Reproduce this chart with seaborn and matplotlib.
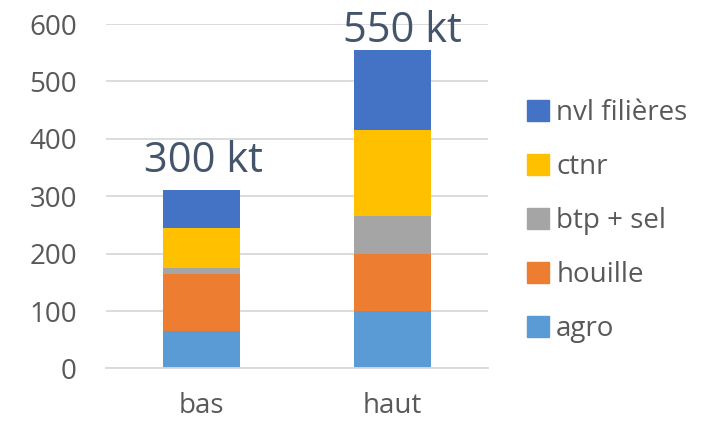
import pandas as pd
import matplotlib
matplotlib.use("Agg")
import matplotlib.pyplot as plt
import matplotlib.patches as mpatches
import seaborn as sns

sns.set_style("white")
plt.rcParams['font.family'] = ['Open Sans', 'DejaVu Sans']

# -------------------
# Data
# -------------------
scenarios = ["bas", "haut"]
series = ["agro", "houille", "btp + sel", "ctnr", "nvl filières"]
agro = [65, 100]
houille = [100, 100]
btp_sel = [10, 65]
ctnr = [70, 150]
nvl_filieres = [65, 140]
totals_text = ["300 kt", "550 kt"]

colors = ["#5B9BD5", "#ED7D31", "#A5A5A5", "#FFC000", "#4472C4"]

df = pd.DataFrame({
    "scenario": scenarios,
    "agro": agro,
    "houille": houille,
    "btp + sel": btp_sel,
    "ctnr": ctnr,
    "nvl filières": nvl_filieres,
})

# -------------------
# Plot
# -------------------
fig = plt.figure(figsize=(7.02, 4.22), dpi=100)
ax = fig.add_axes([0.151, 0.127, 0.544, 0.816])

bottom = [0, 0]
for name, col in zip(series, colors):
    sns.barplot(data=df, x="scenario", y=name, color=col, width=0.40,
                bottom=bottom, ax=ax, saturation=1, linewidth=0)
    bottom = [b + v for b, v in zip(bottom, df[name])]

ax.set_ylim(0, 600)
ax.set_xlim(-0.5, 1.5)
ax.set_yticks(range(0, 601, 100))
ax.yaxis.grid(True, color="#D9D9D9", linewidth=1.3)
ax.set_axisbelow(True)
for s in ["top", "right", "left"]:
    ax.spines[s].set_visible(False)
ax.spines["bottom"].set_color("#D9D9D9")
ax.spines["bottom"].set_linewidth(1.3)
ax.set_xlabel("")
ax.set_ylabel("")
ax.tick_params(axis="y", length=0, pad=21, labelsize=20, labelcolor="#595959")
ax.tick_params(axis="x", length=0, pad=17, labelsize=20, labelcolor="#595959")

# total labels
label_y = [342, 569]
label_dx = [0.01, 0.05]
for i, txt in enumerate(totals_text):
    ax.text(i + label_dx[i], label_y[i], txt, ha="center", va="baseline",
            fontsize=30, color="#44546A", clip_on=False)

handles = [mpatches.Patch(color=c, label=l) for l, c in zip(series, colors)][::-1]
fig.legend(handles=handles, loc="center left", bbox_to_anchor=(0.735, 0.476),
           frameon=False, fontsize=20, labelcolor="#595959",
           handlelength=0.8, handleheight=0.8, handletextpad=0.25,
           labelspacing=0.93, borderaxespad=0)

plt.savefig("out.png", dpi=100)
